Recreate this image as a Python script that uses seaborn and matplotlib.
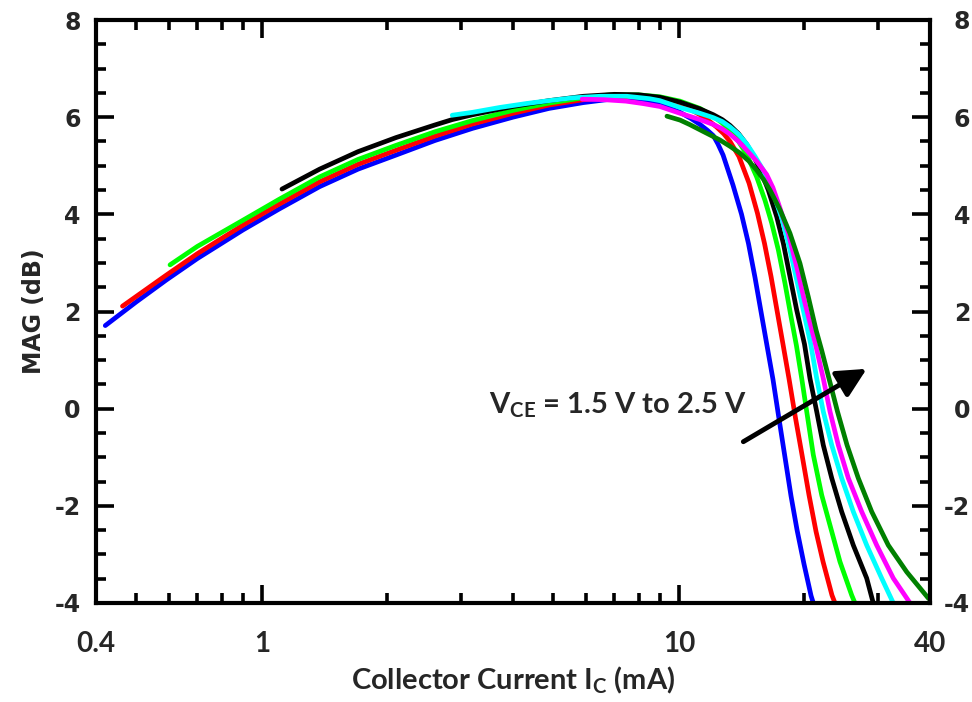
import numpy as np
import pandas as pd
import matplotlib
matplotlib.use("Agg")
import matplotlib.pyplot as plt
from matplotlib.ticker import FixedLocator, FixedFormatter, NullFormatter, MultipleLocator
import seaborn as sns

# ---------------- data ----------------
series_names = ["1.5 V", "1.67 V", "1.83 V", "2.0 V", "2.17 V", "2.33 V", "2.5 V"]
series_colors = ["#0000FF", "#FF0000", "#00FF00", "#000000", "#00FFFF", "#FF00FF", "#008000"]

blue_I = [0.421, 0.5, 0.59, 0.7, 0.901, 1.1, 1.375, 1.7, 2.097, 2.6, 3.2, 4.0, 4.88, 5.9, 7.0,
          8.0, 9.0, 10.06, 10.7, 11.23, 11.7, 12.09, 12.4, 12.76, 13.48, 14.13, 14.68, 15.22,
          15.73, 16.26, 16.81, 17.37, 17.96, 18.57, 19.20, 19.95, 20.74, 21.00]
blue_M = [1.71, 2.20, 2.65, 3.09, 3.68, 4.11, 4.57, 4.93, 5.22, 5.52, 5.77, 6.00, 6.18, 6.30, 6.38,
          6.36, 6.27, 6.10, 5.97, 5.85, 5.73, 5.62, 5.45, 5.22, 4.60, 4.00, 3.40, 2.70,
          2.00, 1.30, 0.60, -0.20, -1.00, -1.80, -2.50, -3.20, -3.85, -4.0]

red_I = [0.463, 0.59, 0.7, 0.901, 1.1, 1.375, 1.7, 2.097, 2.6, 3.2, 4.0, 4.88, 5.9, 7.2, 8.5,
         9.5, 10.06, 10.7, 11.23, 11.7, 12.3, 12.8, 13.26, 13.93, 14.73, 15.43, 16.04, 16.63,
         17.18, 17.76, 18.36, 19.04, 19.73, 20.51, 21.32, 22.16, 23.28, 23.67]
red_M = [2.11, 2.75, 3.19, 3.78, 4.21, 4.67, 5.03, 5.32, 5.61, 5.86, 6.08, 6.25, 6.36, 6.43, 6.40,
         6.32, 6.25, 6.15, 6.05, 5.95, 5.80, 5.66, 5.50, 5.19, 4.64, 4.02, 3.40, 2.72,
         2.03, 1.33, 0.62, -0.20, -0.95, -1.78, -2.53, -3.15, -3.84, -4.0]

green_I = [0.602, 0.7, 0.901, 1.1, 1.375, 1.7, 2.097, 2.6, 3.2, 4.0, 4.88, 5.9, 6.83, 8.0, 9.0,
           10.06, 11.23, 12.09, 12.7, 13.26, 13.9, 14.54, 15.36, 16.08, 16.69, 17.31, 17.96,
           18.57, 19.13, 19.70, 20.25, 21.00, 22.00, 23.25, 24.33, 25.96, 26.43]
green_M = [2.96, 3.34, 3.88, 4.31, 4.77, 5.13, 5.42, 5.70, 5.93, 6.14, 6.29, 6.40, 6.46, 6.46, 6.42,
           6.33, 6.18, 6.02, 5.88, 5.72, 5.50, 5.23, 4.77, 4.29, 3.82, 3.27, 2.58,
           1.89, 1.30, 0.62, -0.06, -0.95, -1.78, -2.53, -3.15, -3.84, -4.0]

black_I = [1.117, 1.375, 1.7, 2.097, 2.6, 2.86, 3.2, 4.0, 4.88, 5.9, 7.0, 8.0, 9.0, 10.06, 11.23,
           12.09, 12.7, 13.26, 13.9, 14.54, 15.1, 15.64, 16.38, 17.16, 17.80, 18.46, 19.16,
           20.0, 20.62, 21.40, 22.19, 23.25, 24.56, 26.19, 28.20, 29.24]
black_M = [4.52, 4.93, 5.29, 5.58, 5.84, 5.95, 6.05, 6.22, 6.34, 6.43, 6.47, 6.46, 6.41, 6.31, 6.17,
           6.05, 5.95, 5.83, 5.66, 5.44, 5.20, 4.93, 4.50, 3.95, 3.40, 2.72, 2.03,
           1.33, 0.62, -0.06, -0.75, -1.43, -2.12, -2.81, -3.49, -4.0]

cyan_I = [2.86, 3.2, 3.72, 4.3, 4.88, 5.6, 6.47, 7.5, 8.5, 9.0, 10.06, 11.23, 12.09, 12.7, 13.26,
          13.9, 14.54, 15.2, 15.93, 16.84, 17.64, 18.46, 19.16, 19.87, 20.7, 21.40, 22.19,
          23.25, 24.56, 26.19, 28.20, 30.63, 32.66]
cyan_M = [6.04, 6.10, 6.20, 6.28, 6.34, 6.40, 6.43, 6.43, 6.38, 6.34, 6.20, 6.08, 5.99, 5.91, 5.80,
          5.65, 5.45, 5.20, 4.91, 4.43, 3.92, 3.27, 2.65, 2.03, 1.33, 0.62, -0.06,
          -0.75, -1.43, -2.12, -2.81, -3.49, -4.0]

magenta_I = [5.86, 6.6, 7.46, 8.2, 9.0, 10.06, 11.23, 12.09, 12.7, 13.26, 13.9, 14.54, 15.4, 16.23,
             16.8, 17.31, 18.29, 19.16, 20.06, 21.25, 22.19, 23.03, 24.11, 25.48, 27.43, 29.80,
             32.66, 35.82]
magenta_M = [6.37, 6.36, 6.33, 6.28, 6.22, 6.08, 5.95, 5.85, 5.76, 5.65, 5.50, 5.32, 5.08, 4.82,
             4.55, 4.23, 3.61, 2.92, 2.17, 1.33, 0.62, -0.06, -0.75, -1.43, -2.12, -2.81,
             -3.49, -4.0]

dgreen_I = [9.36, 10.06, 10.6, 11.23, 11.9, 12.54, 13.26, 14.01, 14.7, 15.36, 15.95, 16.53, 17.48,
            18.46, 19.51, 20.43, 21.32, 21.98, 22.90, 24.00, 25.30, 26.92, 28.99, 31.77, 35.17,
            39.62, 40.0]
dgreen_M = [6.02, 5.94, 5.85, 5.74, 5.63, 5.53, 5.40, 5.26, 5.10, 4.91, 4.72, 4.50, 4.09,
            3.61, 2.99, 2.30, 1.62, 1.21, 0.62, -0.06, -0.75, -1.43, -2.12, -2.81, -3.36,
            -3.90, -3.93]

all_I = [blue_I, red_I, green_I, black_I, cyan_I, magenta_I, dgreen_I]
all_M = [blue_M, red_M, green_M, black_M, cyan_M, magenta_M, dgreen_M]

x_tick_vals = [0.4, 1, 10, 40]
x_tick_labels = ["0.4", "1", "10", "40"]
x_minor_vals = [0.5, 0.6, 0.7, 0.8, 0.9, 2, 3, 4, 5, 6, 7, 8, 9, 20, 30]
y_tick_vals = [-4, -2, 0, 2, 4, 6, 8]
y_tick_labels = ["-4", "-2", "0", "2", "4", "6", "8"]

frames = []
for name, I, M in zip(series_names, all_I, all_M):
    frames.append(pd.DataFrame({"Ic": I, "MAG": M, "Vce": name}))
df = pd.concat(frames, ignore_index=True)

# ---------------- plotting ----------------
sns.set_style("white")
plt.rcParams["font.family"] = ["DejaVu Sans"]
plt.rcParams["axes.unicode_minus"] = False
plt.rcParams["mathtext.fontset"] = "custom"
plt.rcParams["mathtext.rm"] = "Lato:bold"
plt.rcParams["mathtext.it"] = "Lato:bold"
plt.rcParams["mathtext.bf"] = "Lato:bold"

fig = plt.figure(figsize=(9.72, 7.02), dpi=100)
ax = fig.add_axes([96 / 972, 1 - 603 / 702, (930 - 96) / 972, (603 - 20) / 702])

sns.lineplot(data=df, x="Ic", y="MAG", hue="Vce", hue_order=series_names,
             palette=dict(zip(series_names, series_colors)), estimator=None, sort=False,
             linewidth=3.4, legend=False, ax=ax, solid_capstyle="round", solid_joinstyle="round")

ax.set_xscale("log")
ax.set_xlim(0.4, 40)
ax.set_ylim(-4, 8)
ax.xaxis.set_major_locator(FixedLocator(x_tick_vals))
ax.xaxis.set_major_formatter(FixedFormatter(x_tick_labels))
ax.xaxis.set_minor_locator(FixedLocator(x_minor_vals))
ax.xaxis.set_minor_formatter(NullFormatter())
ax.yaxis.set_major_locator(FixedLocator(y_tick_vals))
ax.yaxis.set_major_formatter(FixedFormatter(y_tick_labels))
ax.yaxis.set_minor_locator(MultipleLocator(0.5))

# right-hand tick labels (right-aligned, as in the reference)
ax2 = ax.twinx()
ax2.set_ylim(ax.get_ylim())
ax2.yaxis.set_major_locator(FixedLocator(y_tick_vals))
ax2.yaxis.set_major_formatter(FixedFormatter(y_tick_labels))
ax2.yaxis.set_minor_locator(FixedLocator([]))
ax2.tick_params(axis="y", which="major", length=0, pad=29)
for s in ax2.spines.values():
    s.set_visible(False)
for lab in ax2.get_yticklabels():
    lab.set_fontfamily("DejaVu Sans")
    lab.set_fontweight("bold")
    lab.set_fontsize(17)
    lab.set_horizontalalignment("right")

for s in ax.spines.values():
    s.set_linewidth(3.0)
    s.set_color("black")

# inward ticks on all four sides (set after twinx, which turns off the right ticks)
ax.tick_params(which="both", direction="in", top=True, bottom=True, left=True, right=True,
               labelright=False, labeltop=False, color="black", width=2.6)
ax.tick_params(which="major", length=13)
ax.tick_params(which="minor", length=7)
ax.tick_params(axis="y", which="major", pad=11)
ax.tick_params(axis="x", which="major", pad=20)

for lab in ax.get_yticklabels():
    lab.set_fontfamily("DejaVu Sans")
    lab.set_fontweight("bold")
    lab.set_fontsize(17)
for lab in ax.get_xticklabels():
    lab.set_fontfamily("Lato")
    lab.set_fontweight("bold")
    lab.set_fontsize(20)

ax.set_xlabel("Collector Current $I_C$ (mA)", fontfamily="Lato", fontweight="bold",
              fontsize=21, labelpad=6)
ax.set_ylabel("MAG (dB)", fontfamily="DejaVu Sans", fontweight="bold", fontsize=17, labelpad=6)

ax.text(7.14, -0.09, "V$_{CE}$ = 1.5 V to 2.5 V", fontfamily="Lato", fontweight="bold",
        fontsize=21, ha="center", va="baseline")
ax.annotate("", xy=(28.2, 0.82), xytext=(14.27, -0.68),
            arrowprops=dict(arrowstyle="-|>,head_length=0.8,head_width=0.4",
                            mutation_scale=22, color="black", lw=3.5, shrinkA=0, shrinkB=0))

fig.savefig("out.png", dpi=100)
